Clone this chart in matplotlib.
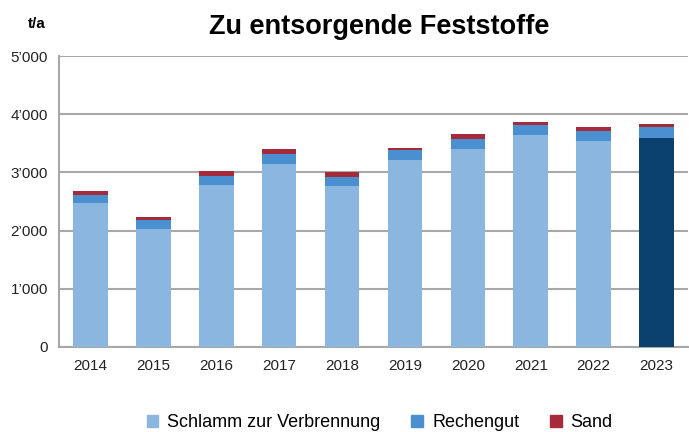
import numpy as np
import matplotlib.pyplot as plt
from matplotlib.patches import Patch

plt.rcParams['font.family'] = ['Liberation Sans', 'DejaVu Sans']

years = ['2014', '2015', '2016', '2017', '2018', '2019', '2020', '2021', '2022', '2023']
schlamm = [2470, 2030, 2790, 3145, 2765, 3215, 3405, 3650, 3545, 3590]
rechengut = [140, 160, 155, 180, 160, 170, 175, 160, 165, 195]
sand = [70, 45, 75, 75, 80, 40, 75, 65, 65, 50]

c_schlamm = '#8AB6E0'
c_schlamm_last = '#0A416F'
c_rechen = '#4A8FD0'
c_sand = '#A52B3B'

x = np.arange(len(years))
schlamm_colors = [c_schlamm] * (len(years) - 1) + [c_schlamm_last]

fig = plt.figure(figsize=(6.89, 4.32), dpi=100)
ax = fig.add_axes([0.0856, 0.197, 0.913, 0.673])

w = 0.55
ax.bar(x, schlamm, width=w, color=schlamm_colors, zorder=3)
ax.bar(x, rechengut, width=w, bottom=schlamm, color=c_rechen, zorder=3)
bottom2 = np.array(schlamm) + np.array(rechengut)
ax.bar(x, sand, width=w, bottom=bottom2, color=c_sand, zorder=3)

ax.set_xlim(-0.5, len(years) - 0.5)
ax.set_ylim(0, 5000)
ax.set_yticks(range(0, 5001, 1000))
ax.set_yticklabels(['0', '1\u2019000', '2\u2019000', '3\u2019000', '4\u2019000', '5\u2019000'])
ax.set_xticks(x)
ax.set_xticklabels(years)
ax.tick_params(axis='both', length=0, labelsize=11, colors='#222222')
ax.tick_params(axis='x', pad=9)
ax.tick_params(axis='y', pad=8)

ax.grid(axis='y', color='#A8A8A8', linewidth=1.5, zorder=0)
for s in ['top', 'right']:
    ax.spines[s].set_visible(False)
for s in ['left', 'bottom']:
    ax.spines[s].set_color('#A8A8A8')
    ax.spines[s].set_linewidth(1.5)

fig.text(0.551, 0.938, 'Zu entsorgende Feststoffe', ha='center', va='center',
         fontsize=19.5, fontweight='bold')
fig.text(0.053, 0.945, 't/a', ha='center', va='center', fontsize=11, fontweight='bold')

handles = [Patch(color=c_schlamm, label='Schlamm zur Verbrennung'),
           Patch(color=c_rechen, label='Rechengut'),
           Patch(color=c_sand, label='Sand')]
fig.legend(handles=handles, loc='center', bbox_to_anchor=(0.551, 0.022), ncol=3,
           frameon=False, fontsize=13, handlelength=0.65, handleheight=0.65,
           columnspacing=1.7, handletextpad=0.5)

fig.savefig('out.png', dpi=100)
